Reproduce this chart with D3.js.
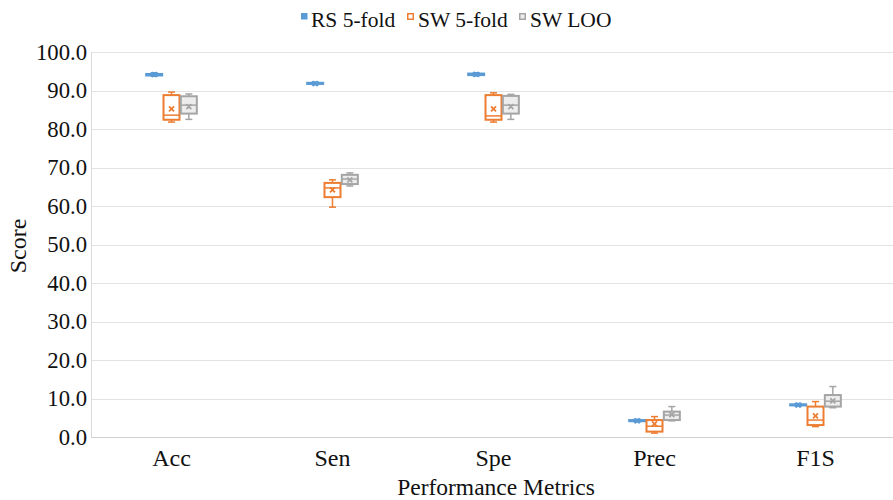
<!DOCTYPE html>
<html><head><meta charset="utf-8">
<script src="https://cdn.jsdelivr.net/npm/d3@7"></script>
<style>body{margin:0;background:#fff}svg{display:block}</style>
</head><body><svg id="c" width="893" height="500" font-family="'Liberation Serif', 'DejaVu Serif', serif"></svg>
<script>
const categories = ["Acc", "Sen", "Spe", "Prec", "F1S"];
const seriesNames = ["RS 5-fold", "SW 5-fold", "SW LOO"];
const yTicks = [0, 10, 20, 30, 40, 50, 60, 70, 80, 90, 100];
// each entry: [min, q1, median, q3, max, mean]
const rs5fold = [
  [93.7, 93.9, 94.1, 94.3, 94.6, 94.1],
  [91.5, 91.7, 91.8, 92.0, 92.2, 91.8],
  [93.8, 94.0, 94.2, 94.4, 94.6, 94.2],
  [3.9, 4.1, 4.2, 4.4, 4.6, 4.2],
  [8.0, 8.2, 8.3, 8.5, 8.7, 8.3]
];
const sw5fold = [
  [81.8, 82.4, 83.6, 88.8, 89.6, 85.2],
  [59.7, 62.3, 64.7, 66.0, 66.8, 64.2],
  [81.8, 82.4, 83.4, 88.8, 89.4, 85.2],
  [1.0, 1.4, 2.8, 4.4, 5.3, 3.4],
  [2.7, 3.1, 4.4, 7.9, 9.2, 5.5]
];
const swLoo = [
  [82.5, 84.0, 86.2, 88.5, 89.1, 85.8],
  [65.2, 65.7, 67.0, 68.1, 68.6, 66.8],
  [82.5, 84.0, 86.2, 88.6, 89.0, 85.8],
  [4.2, 4.4, 5.7, 6.6, 7.9, 5.8],
  [7.6, 7.9, 9.3, 10.9, 13.1, 9.4]
];
(function () {
const seriesData = [rs5fold, sw5fold, swLoo];
const colors = ["#5B9BD5", "#ED7D31", "#A5A5A5"];
const fills = ["#5B9BD5", "#ffffff", "#ededed"];

const svg = d3.select("#c");
const pLeft = 91, pRight = 896, pTop = 52, pBottom = 437;
const x = d3.scaleBand().domain(categories).range([pLeft, pRight]);
const sub = d3.scaleBand().domain(seriesNames).range([-26, 26]);
const y = d3.scaleLinear().domain([0, 100]).range([pBottom, pTop]);

svg.append("g").selectAll("line").data(yTicks).join("line")
  .attr("x1", pLeft).attr("x2", 893)
  .attr("y1", d => Math.round(y(d)) + 0.5).attr("y2", d => Math.round(y(d)) + 0.5)
  .attr("stroke", d => d === 0 ? "#d0d0d0" : "#e3e3e3").attr("stroke-width", 1);
svg.append("line").attr("x1", pLeft + 0.5).attr("x2", pLeft + 0.5).attr("y1", pTop).attr("y2", pBottom)
  .attr("stroke", "#d9d9d9");

svg.append("g").selectAll("text").data(yTicks).join("text")
  .attr("x", 87).attr("y", d => y(d)).attr("dy", "0.35em")
  .attr("text-anchor", "end").attr("font-size", 22.7).attr("fill", "#111")
  .text(d3.format(".1f"));

svg.append("g").selectAll("text").data(categories).join("text")
  .attr("x", d => x(d) + x.bandwidth() / 2).attr("y", 466)
  .attr("text-anchor", "middle").attr("font-size", 24).attr("fill", "#111")
  .text(d => d);

svg.append("text").attr("transform", "translate(26,246) rotate(-90)")
  .attr("text-anchor", "middle").attr("font-size", 24).attr("fill", "#111").text("Score");
svg.append("text").attr("x", 496).attr("y", 495)
  .attr("text-anchor", "middle").attr("font-size", 23.5).attr("fill", "#111").text("Performance Metrics");

const bw = 16;
seriesData.forEach((data, si) => {
  const g = svg.append("g");
  const col = colors[si];
  data.forEach((s, ci) => {
    const cx = x(categories[ci]) + x.bandwidth() / 2 + sub(seriesNames[si]) + sub.bandwidth() / 2;
    const [mn, q1, md, q3, mx, mean] = s;
    g.append("line").attr("x1", cx).attr("x2", cx).attr("y1", y(mx)).attr("y2", y(q3)).attr("stroke", col).attr("stroke-width", 1.5);
    g.append("line").attr("x1", cx).attr("x2", cx).attr("y1", y(q1)).attr("y2", y(mn)).attr("stroke", col).attr("stroke-width", 1.5);
    g.append("line").attr("x1", cx - 3.5).attr("x2", cx + 3.5).attr("y1", y(mx)).attr("y2", y(mx)).attr("stroke", col).attr("stroke-width", 1.5);
    g.append("line").attr("x1", cx - 3.5).attr("x2", cx + 3.5).attr("y1", y(mn)).attr("y2", y(mn)).attr("stroke", col).attr("stroke-width", 1.5);
    g.append("rect").attr("x", cx - bw / 2).attr("width", bw)
      .attr("y", y(q3)).attr("height", Math.max(1, y(q1) - y(q3)))
      .attr("fill", fills[si]).attr("stroke", col).attr("stroke-width", 2);
    g.append("line").attr("x1", cx - bw / 2).attr("x2", cx + bw / 2).attr("y1", y(md)).attr("y2", y(md)).attr("stroke", col).attr("stroke-width", 1.5);
    const my = y(mean), r = 2.5;
    g.append("path").attr("d", `M${cx - r},${my - r}L${cx + r},${my + r}M${cx - r},${my + r}L${cx + r},${my - r}`)
      .attr("stroke", col).attr("stroke-width", 1.8).attr("fill", "none");
  });
});

const legendItems = [
  {name: seriesNames[0], sx: 301, tx: 311},
  {name: seriesNames[1], sx: 407, tx: 418},
  {name: seriesNames[2], sx: 519, tx: 530}
];
const lg = svg.append("g");
legendItems.forEach((d, i) => {
  if (i === 0) {
    lg.append("rect").attr("x", d.sx).attr("y", 13).attr("width", 6.5).attr("height", 6.5).attr("fill", colors[i]);
  } else {
    lg.append("rect").attr("x", d.sx + 0.75).attr("y", 13.75).attr("width", 5.5).attr("height", 5.5)
      .attr("fill", fills[i]).attr("stroke", colors[i]).attr("stroke-width", 1.5);
  }
  lg.append("text").attr("x", d.tx).attr("y", 26.5).attr("font-size", 21.5).attr("fill", "#111").text(d.name);
});
})();
</script></body></html>
